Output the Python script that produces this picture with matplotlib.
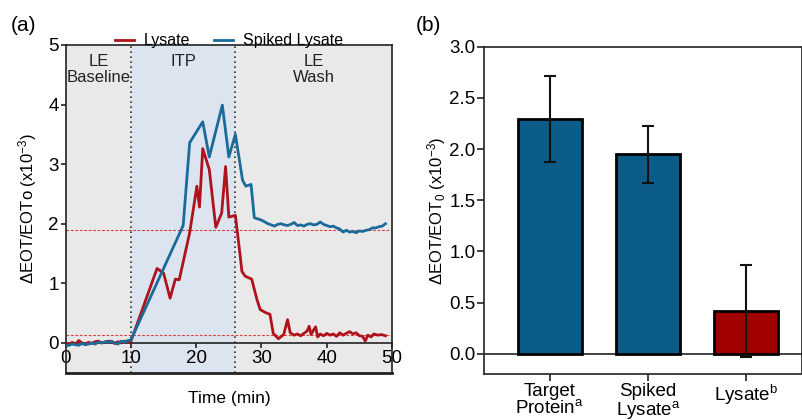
import numpy as np
import matplotlib
matplotlib.use("Agg")
import matplotlib.pyplot as plt
from matplotlib.lines import Line2D

plt.rcParams['font.family'] = ['Liberation Sans', 'DejaVu Sans']
plt.rcParams['mathtext.fontset'] = 'custom'
plt.rcParams['mathtext.rm'] = 'Liberation Sans'
plt.rcParams['mathtext.it'] = 'Liberation Sans'
plt.rcParams['mathtext.default'] = 'regular'

# ---- datos panel (a): ΔEOT/EOTo vs tiempo ----
t_lysate = [0, 0.5, 1, 1.5, 2, 2.5, 3, 3.5, 4, 4.5, 5, 5.5, 6, 6.5, 7, 7.5, 8, 8.5, 9, 9.5, 10,
            14.0, 15.0, 16.0, 16.8, 17.4, 19.0, 20.1, 20.5, 21.0, 22.0,
            23.0, 23.9, 24.5, 25.0, 26.0, 26.8, 27.0, 27.5, 28.5, 29.3,
            29.8, 30.6, 31.3, 31.8, 32.6, 33.4, 34.0, 34.4, 35.0, 35.5,
            36.0, 36.5, 37.0, 37.3, 37.6, 38.0, 38.3, 38.6, 39.0, 39.5,
            40.0, 40.5, 41.0, 41.5, 42.0, 42.5, 43.0, 43.5, 44.0, 44.5,
            45.0, 45.5, 45.9, 46.3, 46.8, 47.2, 47.8, 48.4, 49.0]
y_lysate = [-0.01, -0.03, 0.01, -0.02, 0.04, 0.00, -0.02, 0.01, -0.01, 0.02, 0.03,
            0.00, 0.01, 0.03, 0.02, -0.01, 0.02, 0.00, 0.03, 0.01, 0.03,
            1.25, 1.17, 0.75, 1.07, 1.06, 1.85, 2.63, 2.28, 3.26, 2.91,
            1.94, 2.18, 2.96, 2.11, 2.14, 1.40, 1.20, 1.12, 1.07, 0.73,
            0.56, 0.51, 0.48, 0.16, 0.07, 0.14, 0.39, 0.17, 0.13, 0.15,
            0.12, 0.16, 0.20, 0.28, 0.14, 0.22, 0.27, 0.10, 0.15, 0.12,
            0.16, 0.13, 0.15, 0.11, 0.17, 0.13, 0.16, 0.19, 0.15, 0.17,
            0.12, 0.11, 0.03, 0.13, 0.10, 0.15, 0.13, 0.14, 0.12]

t_spiked = [0, 0.5, 1, 1.5, 2, 2.5, 3, 3.5, 4, 4.5, 5, 5.5, 6, 6.5, 7, 7.5, 8, 8.5, 9, 9.5, 10,
            18.0, 19.0, 21.0, 22.0, 24.0, 25.0, 26.0, 27.1, 27.6, 28.4, 28.9,
            29.5, 30.0, 30.5, 31.0, 31.5, 32.0, 32.5, 33.0, 33.5, 34.0,
            34.5, 35.0, 35.5, 36.0, 36.5, 37.0, 37.5, 38.0, 38.5, 39.0,
            39.5, 40.0, 40.5, 41.0, 41.5, 42.0, 42.5, 43.0, 43.5, 44.0,
            44.5, 45.0, 45.5, 46.0, 46.5, 47.0, 47.5, 48.0, 48.5, 49.0]
y_spiked = [-0.05, -0.04, -0.02, -0.03, -0.04, -0.01, -0.03, -0.02, 0.00, -0.02, 0.01,
            0.00, 0.02, 0.01, 0.03, 0.00, -0.02, 0.03, 0.01, 0.04, 0.05,
            1.97, 3.36, 3.71, 3.12, 3.99, 3.12, 3.50, 2.73, 2.63, 2.66, 2.10,
            2.08, 2.06, 2.03, 2.00, 1.98, 1.96, 1.99, 2.00, 1.98, 1.97,
            1.99, 2.02, 1.97, 1.98, 1.96, 1.99, 2.00, 1.98, 1.99, 2.03,
            1.99, 1.97, 1.95, 1.96, 1.93, 1.91, 1.86, 1.89, 1.86, 1.87,
            1.85, 1.88, 1.87, 1.89, 1.90, 1.93, 1.93, 1.95, 1.96, 2.00]

fases = [(0, 10, 'LE\nBaseline'), (10, 26, 'ITP'), (26, 50, 'LE\nWash')]
umbrales = [1.90, 0.13]

# ---- datos panel (b): barras ----
categorias = ['Target\nProtein$^{a}$', 'Spiked\nLysate$^{a}$', 'Lysate$^{b}$']
valores = [2.29, 1.95, 0.42]
errores = [0.42, 0.28, 0.45]

C_ROJO = '#b0121b'
C_AZUL = '#1a6b99'
C_BAR_AZUL = '#0b5c88'
C_BAR_ROJO = '#a00000'
C_EJE = '#222222'

fig = plt.figure(figsize=(8.02, 4.2), dpi=100)

# ─── Panel (a) ───────────────────────────────
ax = fig.add_axes([0.0819, 0.1126, 0.4069, 0.7804])
ax.set_facecolor('#e9e9e9')
ax.axvspan(10, 26, color='#dce4f0', lw=0, zorder=0)
for x in (10, 26):
    ax.axvline(x, color='#333333', ls=(0, (1, 2)), lw=1.2, zorder=1)
for yh in umbrales:
    ax.axhline(yh, color='#d9413f', ls=(0, (2.5, 1.5)), lw=0.8, zorder=1)

ax.plot(t_lysate, y_lysate, color=C_ROJO, lw=2.0, zorder=3)
ax.plot(t_spiked, y_spiked, color=C_AZUL, lw=2.0, zorder=3)

for x0, x1, txt in fases:
    ax.text((x0 + x1) / 2, 4.84, txt, ha='center', va='top', fontsize=12,
            linespacing=1.05, color='#222222')

ax.set_xlim(0, 50)
ax.set_ylim(-0.5, 5)
ax.set_xticks([0, 10, 20, 30, 40, 50])
ax.set_yticks([0, 1, 2, 3, 4, 5])
ax.spines['bottom'].set_position(('data', 0))
for s in ax.spines.values():
    s.set_color(C_EJE)
    s.set_linewidth(1.2)
ax.plot([0, 1], [0, 0], transform=ax.transAxes, color=C_EJE, lw=2.0,
        clip_on=False, zorder=5)
ax.tick_params(axis='both', direction='out', length=3.5, width=1.2,
               labelsize=13.5, color=C_EJE, pad=1.5)
ax.set_xlabel('Time (min)', fontsize=12.5)
ax.xaxis.set_label_coords(0.5, -0.055)
ax.set_ylabel('ΔEOT/EOTo (x10$^{-3}$)', fontsize=12, labelpad=7)

handles = [Line2D([], [], color=C_ROJO, lw=2.0), Line2D([], [], color=C_AZUL, lw=2.0)]
ax.legend(handles, ['Lysate', 'Spiked Lysate'], loc='lower center',
          bbox_to_anchor=(0.5, 0.985), ncol=2, frameon=False, fontsize=11.5,
          handlelength=1.2, handletextpad=0.6, columnspacing=1.5,
          borderaxespad=0, borderpad=0.1)
fig.text(0.014, 0.94, '(a)', fontsize=15, ha='left', va='center')

# ─── Panel (b) ───────────────────────────────
ax2 = fig.add_axes([0.6039, 0.1088, 0.3961, 0.78])
pos = np.arange(len(categorias))
ax2.bar(pos, valores, width=0.65, color=[C_BAR_AZUL, C_BAR_AZUL, C_BAR_ROJO],
        edgecolor='black', linewidth=2.0, zorder=2)
ax2.errorbar(pos, valores, yerr=errores, fmt='none', ecolor='#111111',
             elinewidth=1.5, capsize=4.5, capthick=1.5, zorder=3)
ax2.axhline(0, color=C_EJE, lw=1.2, zorder=1)
ax2.set_xlim(-0.663, 2.566)
ax2.set_ylim(-0.2, 3.0)
ax2.set_yticks([0.0, 0.5, 1.0, 1.5, 2.0, 2.5, 3.0])
ax2.set_yticklabels(['0.0', '0.5', '1.0', '1.5', '2.0', '2.5', '3.0'])
ax2.set_xticks(pos)
ax2.set_xticklabels(categorias, linespacing=0.92)
for s in ax2.spines.values():
    s.set_color(C_EJE)
    s.set_linewidth(1.2)
ax2.tick_params(axis='both', direction='out', length=5, width=1.2,
                labelsize=13.5, color=C_EJE, pad=1.5)
ax2.set_ylabel('ΔEOT/EOT$_{0}$ (x10$^{-3}$)', fontsize=12, labelpad=1)
fig.text(0.518, 0.94, '(b)', fontsize=15, ha='left', va='center')

fig.savefig('out.png', dpi=100)
